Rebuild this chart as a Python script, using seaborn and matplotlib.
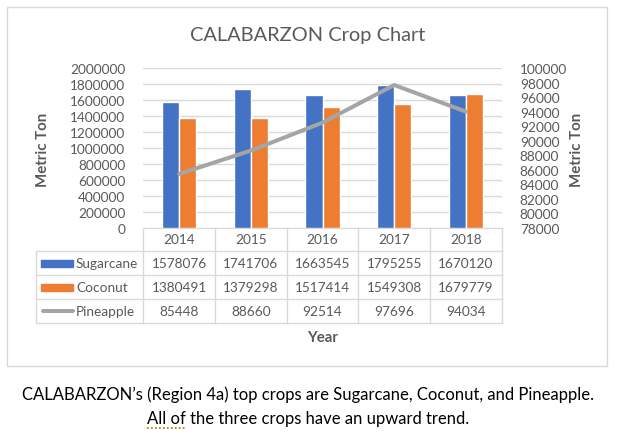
import pandas as pd
import matplotlib
matplotlib.use("Agg")
import matplotlib.pyplot as plt
import matplotlib.transforms as mtransforms
from matplotlib.patches import Rectangle
from matplotlib.lines import Line2D
import seaborn as sns

# data
years = ["2014", "2015", "2016", "2017", "2018"]
sugarcane = [1578076, 1741706, 1663545, 1795255, 1670120]
coconut = [1380491, 1379298, 1517414, 1549308, 1679779]
pineapple = [85448, 88660, 92514, 97696, 94034]
left_ticks = list(range(0, 2000001, 200000))
right_ticks = list(range(78000, 100001, 2000))

blue = "#4472C4"
orange = "#ED7D31"
gray = "#A5A5A5"
txt = "#595959"
grid = "#D9D9D9"

sns.set_style("white")
plt.rcParams["font.family"] = ["Lato", "DejaVu Sans"]

W, H = 617, 439
fig = plt.figure(figsize=(W / 100, H / 100), dpi=100)

def fx(px):
    return px / W

def fy(px):
    return 1 - px / H

# plot area in pixels
x0, x1, ytop, ybot = 143.3, 501.7, 69.3, 229.0
ax = fig.add_axes([fx(x0), fy(ybot), fx(x1 - x0), (ybot - ytop) / H])

bars_df = pd.DataFrame({
    "Year": years * 2,
    "Crop": ["Sugarcane"] * 5 + ["Coconut"] * 5,
    "Value": sugarcane + coconut,
})
sns.barplot(data=bars_df, x="Year", y="Value", hue="Crop", palette=[blue, orange],
            width=0.475, saturation=1, ax=ax, legend=False, zorder=3)
ax.set_xlim(-0.5, 4.5)
ax.set_ylim(0, 2000000)
ax.set_yticks(left_ticks)
ax.set_yticklabels([str(t) for t in left_ticks])
ax.yaxis.grid(True, color=grid, lw=1)
ax.set_axisbelow(True)
ax.tick_params(axis="y", length=0, pad=13, labelsize=9.8, labelcolor=txt)
ax.tick_params(axis="x", length=0, labelbottom=False)
for s in ["top", "right", "left"]:
    ax.spines[s].set_visible(False)
ax.spines["bottom"].set_color(grid)
ax.set_xlabel("")
ax.set_ylabel("")

ax2 = ax.twinx()
line_df = pd.DataFrame({"Year": years, "Value": pineapple})
sns.lineplot(data=line_df, x="Year", y="Value", color=gray, lw=2.9, ax=ax2,
             solid_capstyle="round", solid_joinstyle="round")
ax2.set_ylim(78000, 100000)
ax2.set_yticks(right_ticks)
ax2.set_yticklabels([str(t) for t in right_ticks])
ax2.tick_params(axis="y", length=0, pad=13, labelsize=9.8, labelcolor=txt)
for s in ["top", "right", "left", "bottom"]:
    ax2.spines[s].set_visible(False)
ax2.set_xlabel("")
ax2.set_ylabel("")
ax2.set_xlim(-0.5, 4.5)

# data table under the axis
trans = mtransforms.blended_transform_factory(ax.transData, ax.transAxes)
ph = ybot - ytop
def ay(py):
    return (ybot - py) / ph

row_edges = [229.0, 252.0, 276.0, 300.0, 324.0]
for j, yr in enumerate(years):
    ax.text(j, ay((row_edges[0] + row_edges[1]) / 2), yr, transform=trans,
            ha="center", va="center", fontsize=9.8, color=txt, clip_on=False)
rows = [("Sugarcane", sugarcane, blue, "bar"),
        ("Coconut", coconut, orange, "bar"),
        ("Pineapple", pineapple, gray, "line")]
for i, (name, vals, col, kind) in enumerate(rows):
    yc = ay((row_edges[i + 1] + row_edges[i + 2]) / 2)
    for j, v in enumerate(vals):
        ax.text(j, yc, str(v), transform=trans, ha="center", va="center",
                fontsize=9.8, color=txt, clip_on=False)
    if kind == "bar":
        ax.add_patch(Rectangle((-1.927, yc - 3.5 / ph), 0.442, 7 / ph, transform=trans,
                               color=col, clip_on=False))
    else:
        ax.add_line(Line2D([-1.90, -1.48], [yc, yc], transform=trans, color=col,
                           lw=2.9, solid_capstyle="round", clip_on=False))
    ax.text(-1.44, yc, name, transform=trans, ha="left", va="center",
            fontsize=9.8, color=txt, clip_on=False)

# table grid lines
for j in range(6):
    ax.add_line(Line2D([j - 0.5, j - 0.5], [0, ay(row_edges[-1])], transform=trans,
                       color=grid, lw=1, clip_on=False))
ax.add_line(Line2D([-2.0, -2.0], [ay(row_edges[1]), ay(row_edges[-1])], transform=trans,
                   color=grid, lw=1, clip_on=False))
for k in range(1, 5):
    ax.add_line(Line2D([-2.0, 4.5], [ay(row_edges[k]), ay(row_edges[k])], transform=trans,
                       color=grid, lw=1, clip_on=False))

# titles and labels
fig.text(fx(308), fy(36), "CALABARZON Crop Chart", ha="center", va="center",
         fontsize=14.4, color=txt)
fig.text(fx(43), fy(150), "Metric Ton", rotation=90, ha="center", va="center",
         fontsize=10.8, fontweight="bold", color=txt)
fig.text(fx(577), fy(150), "Metric Ton", rotation=90, ha="center", va="center",
         fontsize=10.8, fontweight="bold", color=txt)
fig.text(fx(322.5), fy(338), "Year", ha="center", va="center",
         fontsize=10.8, fontweight="bold", color=txt)

# chart border
fig.patches.append(Rectangle((fx(7), fy(367)), fx(600), (367 - 8) / H, transform=fig.transFigure,
                             fill=False, edgecolor=grid, lw=1))

# caption
fig.text(fx(308), fy(395), "CALABARZON\u2019s (Region 4a) top crops are Sugarcane, Coconut, and Pineapple.",
         ha="center", va="center", fontsize=12, color="black")
line2 = fig.text(fx(308), fy(419), "All of the three crops have an upward trend.",
                 ha="center", va="center", fontsize=12, color="black")

# dotted grammar-check underline under "All of"
renderer = fig.canvas.get_renderer()
bb = line2.get_window_extent(renderer)
probe = fig.text(0, 0, "All of", fontsize=12)
pw = probe.get_window_extent(renderer).width
probe.remove()
fig.add_artist(Line2D([bb.x0 / W, (bb.x0 + pw) / W], [fy(429), fy(429)], transform=fig.transFigure,
                      color="#B8860B", lw=1.3, ls=(0, (1, 1.2))))

fig.savefig("out.png", dpi=100)
